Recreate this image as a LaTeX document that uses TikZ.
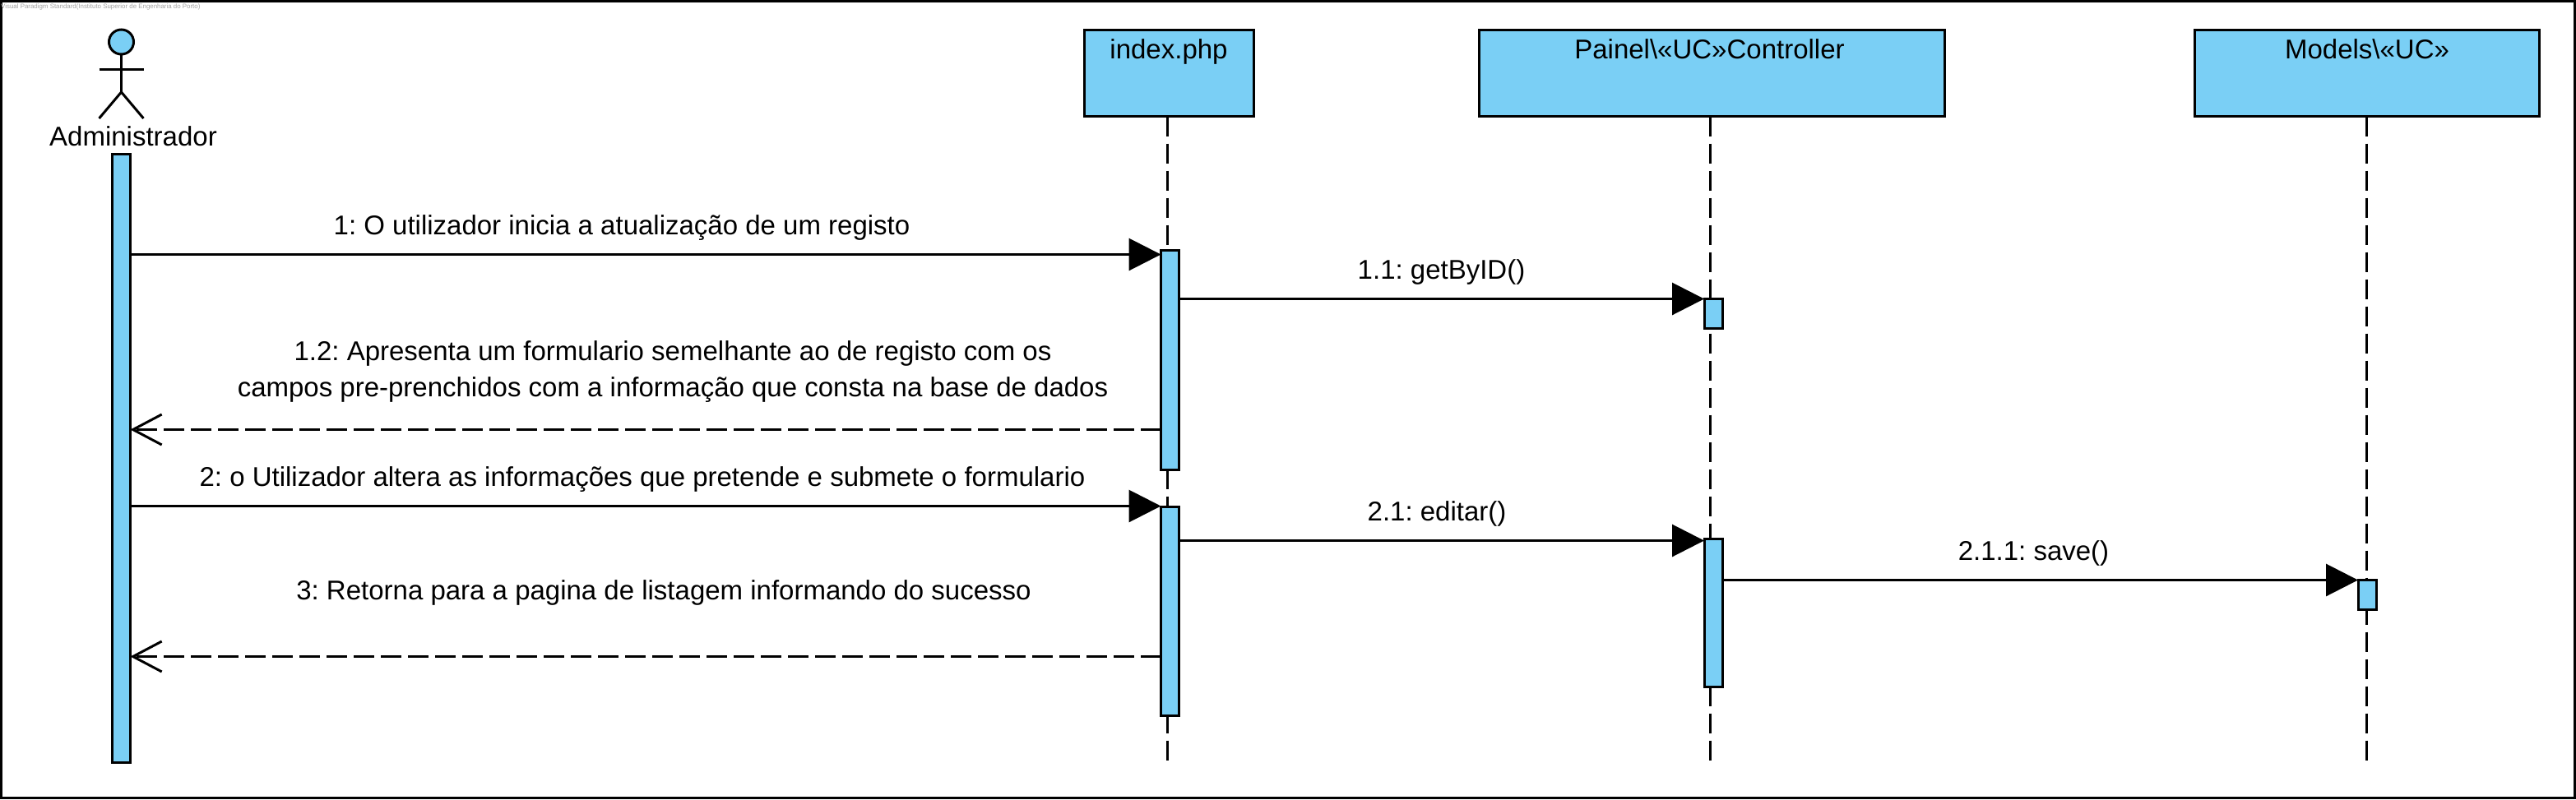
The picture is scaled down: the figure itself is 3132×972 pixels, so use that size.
\documentclass[tikz,border=0pt]{standalone}
\usepackage{fontspec}
\setmainfont{Liberation Sans}
\usetikzlibrary{arrows.meta}
\AtBeginDocument{\frenchspacing}
\definecolor{vpblue}{HTML}{7ACFF5}
\definecolor{wmgray}{HTML}{A0A0A0}
\tikzset{
  x=1pt,y=-1pt,
  stroke/.style={line width=3pt,draw=black},
  headbox/.style={stroke,fill=vpblue,rectangle,inner sep=0pt,outer sep=0pt},
  actbox/.style={stroke,fill=vpblue,rectangle,inner sep=0pt,outer sep=0pt,minimum width=22pt},
  lifeln/.style={line width=2.6pt,draw=black,dash pattern=on 24pt off 9pt},
  msgcall/.style={line width=3pt,draw=black,-{Triangle[length=39pt,width=39pt,fill=black]}},
  msgret/.style={line width=3pt,draw=black,dash pattern=on 24.5pt off 8.5pt,-{Straight Barb[length=35pt,width=37pt,line width=3pt]}},
  lbl/.style={anchor=base,inner sep=0pt,outer sep=0pt,font=\fontsize{33}{40}\selectfont},
}
\begin{document}
\begin{tikzpicture}
\useasboundingbox (0,0) rectangle (3132,972);
\node[stroke,rectangle,inner sep=0pt,outer sep=0pt,minimum width=3129pt,minimum height=969pt,anchor=north west] (frame) at (1,1) {};
\node[anchor=base west,inner sep=0pt,text=wmgray,font=\fontsize{7.9}{9}\selectfont] (wm) at (1,10) {Visual Paradigm Standard(Instituto Superior de Engenharia do Porto)};

% lifeline heads
\node[headbox,minimum width=206pt,minimum height=105pt,anchor=north west] (hIndex) at (1318,36.5) {};
\node[headbox,minimum width=566pt,minimum height=105pt,anchor=north west] (hPainel) at (1798,36.5) {};
\node[headbox,minimum width=419pt,minimum height=105pt,anchor=north west] (hModels) at (2668,36.5) {};
\node[lbl] (tIndex) at (1421,71) {index.php};
\node[lbl] (tPainel) at (2078.5,71) {Painel\textbackslash«UC»Controller};
\node[lbl] (tModels) at (2878,71) {Models\textbackslash«UC»};

% lifeline ends
\coordinate (eIndex) at (1419.5,925);
\coordinate (ePainel) at (2079.5,925);
\coordinate (eModels) at (2877.5,925);
\draw[lifeln] (hIndex.south -| eIndex) -- (eIndex);
\draw[lifeln] (hPainel.south -| ePainel) -- (ePainel);
\draw[lifeln] (hModels.south -| eModels) -- (eModels);

% actor
\node[stroke,fill=vpblue,circle,inner sep=0pt,outer sep=0pt,minimum size=30pt] (head) at (147.5,51) {};
\coordinate (hip) at (147.5,112);
\coordinate (armL) at (120.5,84.5);
\coordinate (armR) at (174.5,84.5);
\coordinate (legL) at (120.5,144);
\coordinate (legR) at (174.5,144);
\draw[stroke] (head.south) -- (hip);
\draw[stroke] (armL) -- (armR);
\draw[stroke] (legL) -- (hip) -- (legR);
\node[lbl] (tActor) at (162,177) {Administrador};

% activations
\node[actbox,minimum height=739.5pt,anchor=north] (aActor) at (147.5,187.5) {};
\node[actbox,minimum height=267pt,anchor=north] (aI1) at (1422.5,304) {};
\node[actbox,minimum height=254.5pt,anchor=north] (aI2) at (1422.5,616) {};
\node[actbox,minimum height=36pt,anchor=north] (aP1) at (2083,363) {};
\node[actbox,minimum height=180pt,anchor=north] (aP2) at (2083,655) {};
\node[actbox,minimum height=36pt,anchor=north] (aM1) at (2878,705.5) {};

% messages
\coordinate (y1) at (0,309.5);
\coordinate (y11) at (0,363.5);
\coordinate (y12) at (0,522.5);
\coordinate (y2) at (0,615.5);
\coordinate (y21) at (0,657.5);
\coordinate (y211) at (0,705.5);
\coordinate (y3) at (0,798.5);
\draw[msgcall] (aActor.east |- y1) -- (aI1.west |- y1);
\draw[msgcall] (aI1.east |- y11) -- (aP1.west |- y11);
\draw[msgret] (aI1.west |- y12) -- (aActor.east |- y12);
\draw[msgcall] (aActor.east |- y2) -- (aI2.west |- y2);
\draw[msgcall] (aI2.east |- y21) -- (aP2.west |- y21);
\draw[msgcall] (aP2.east |- y211) -- (aM1.west |- y211);
\draw[msgret] (aI2.west |- y3) -- (aActor.east |- y3);

% labels
\node[lbl] (m1) at (756,285.5) {1: O utilizador inicia a atualização de um registo};
\node[lbl] (m11) at (1752.5,339) {1.1: getByID()};
\node[lbl] (m12a) at (818,438) {1.2: Apresenta um formulario semelhante ao de registo com os};
\node[lbl] (m12b) at (818,482.5) {campos pre-prenchidos com a informação que consta na base de dados};
\node[lbl] (m2) at (781,591.2) {2: o Utilizador altera as informações que pretende e submete o formulario};
\node[lbl] (m21) at (1747,633.5) {2.1: editar()};
\node[lbl] (m211) at (2472.5,681.5) {2.1.1: save()};
\node[lbl] (m3) at (807,729.5) {3: Retorna para a pagina de listagem informando do sucesso};
\end{tikzpicture}
\end{document}
